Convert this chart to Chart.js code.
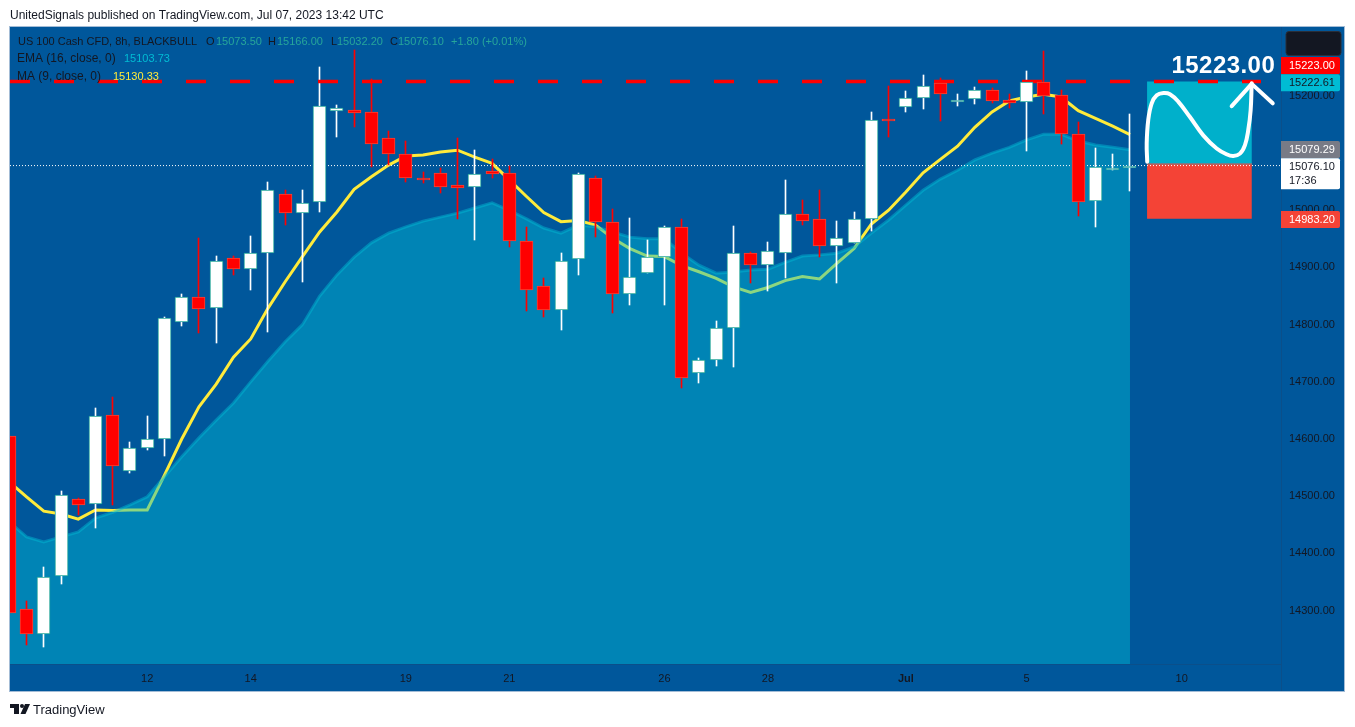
<!DOCTYPE html>
<html><head><meta charset="utf-8">
<style>html,body{margin:0;padding:0;background:#fff;overflow:hidden}canvas{display:block}</style>
<script src="https://cdn.jsdelivr.net/npm/chart.js@4/dist/chart.umd.js"></script>
</head><body><canvas id="c" width="1355" height="727"></canvas>
<script>
// candle values, candle numbers -1..64
const openP =[14604,14300,14258,14358,14493,14484,14640,14542,14582,14598,14802,14846,14827,14914,14896,14924,15026,14993,15012,15171,15174,15169,15125,15096,15054.5,15063,15042,15038,15066,15063,14944,14865,14823,14913,15054,14977,14851,14889,14917,14968,14713,14737,14792,14923,14903,14924,14991,14982,14935,14940,14982,15157,15178,15195,15220,15188,15192,15209,15190,15187,15223,15199,15132,15014,15071,15073.5];
const highP =[14604,14314,14374,14507,14495,14652,14671,14593,14638,14812,14852,14950,14918,14918,14953,15047,15033,15033,15248,15182,15278,15228,15136,15119,15065,15072,15124,15103,15087,15075,14968,14880,14923,15064,15058,15001,14984,14946,14970,14983,14740,14804,14970,14925,14942,15051,15016,15033,14979,14995,15170,15215,15206,15234,15230,15201,15213,15212,15201,15241,15276,15208,15152,15107,15096,15166];
const lowP  =[14293,14238,14235,14345,14465,14443,14483,14539,14578,14568,14796,14783,14766,14884,14859,14786,14972,14873,14995,15126,15144,15074,15077,15048,15046,15028,14983,14946,15055,14934,14822,14812,14789,14885,14952,14819,14832,14889,14832,14688,14696,14726,14724,14871,14857,14880,14972,14917,14871,14940,14962,15126,15170,15175,15154,15180,15184,15185,15176,15102,15167,15114,14988,14969,15068,15032.2];
const closeP=[14293,14258,14356,14501,14483,14638,14550,14582,14598,14809,14846,14825,14910,14896,14923,15033,14993,15011,15181,15176,15168,15113,15097,15054,15053.5,15039,15037,15061,15062,14945,14858,14823,14910,15061,14977,14851,14882,14917,14968,14704,14737,14793,14924,14903,14926,14991,14980,14935,14949,14982,15155,15155,15195,15215,15202,15191,15209,15189,15186,15222,15197,15132,15012,15074,15072,15076.1];
const emaP  =[14453,14427,14418,14427,14435.5,14460,14470,14483,14497,14532,14567,14600,14631,14661,14698,14734,14768,14798,14848,14885,14916,14941,14958,14969,14979,14986,14993,15002,15011,14998,14983,14967,14958,14972,14969,14960,14951,14948,14948,14923,14902,14888,14890,14893.5,14895,14907,14918,14920,14923,14934,14958,14981,15007,15033,15052.5,15068,15086,15098,15108,15121,15131,15131,15119,15112,15108,15103.73];
const maP   =[14523,14497,14472,14467,14458,14474,14473,14474,14474,14535,14598,14654.5,14694,14741,14773,14826.5,14873,14917,14960,14995,15034.5,15056.5,15077,15093,15094.5,15100,15103,15091,15080,15051,15022,14994,14978,14980,14972,14949,14931,14918,14917,14901,14890.5,14879,14864,14854.5,14863,14875,14882,14878,14905,14931,14974,14998,15030,15063.5,15087,15110,15143,15170,15189,15196,15201,15196,15172,15158.6,15145,15130.33];
const candleNo = closeP.map((_, i) => i - 1);

const yTicks = [14300,14400,14500,14600,14700,14800,14900,15000,15200];
const xTickNo = [7,13,22,28,37,43,51,58,67];
const xTickText = ['12','14','19','21','26','28','Jul','5','10'];

const targetPrice = 15223, lastPrice = 15076.10, entryPrice = 15079.29, stopPrice = 14983.20, targetTag = 15222.61;
const zoneFrom = 64.99, zoneTo = 71.07, targetLineTo = 71.6;

// hand-drawn arrow, in candle numbers and prices
const sketchNo    =[65.0,64.97,65.06,65.26,65.55,65.94,66.32,66.8,67.48,68.25,69.03,69.6,69.99,70.38,70.67,70.86,71.0,71.06];
const sketchPrice =[15083,15115,15156,15185,15199,15203,15201,15188,15161,15129,15106,15096,15093,15097,15112,15138,15173,15220];
const headNo    =[69.9,71.06,72.28];
const headPrice =[15180,15219,15185];

const INK='#131722', BG='#00579b', TEAL='#26a69a', CYAN='#00bcd4', YEL='#ffeb3b', TAGRED='#f44336';
const bull = i => closeP[i] >= openP[i];
const pts = (xs, ys) => xs.map((x, i) => ({x, y: ys[i]}));
const flat = (a, b, v) => [{x:a,y:v},{x:b,y:v}];

const decor = {
  id:'decor',
  afterDatasetsUpdate(ch){
    // snap the scale-computed bars to whole pixels so they stay crisp
    ch.getSortedVisibleDatasetMetas().forEach(m=>{
      if(m.type!=='bar') return;
      m.data.forEach(el=>{
        el.x=Math.floor(el.x)+.5;
        const top=Math.round(Math.min(el.y,el.base)), bot=Math.round(Math.max(el.y,el.base));
        el.y=top; el.base=Math.max(bot,top+2);
      });
    });
  },
  beforeDraw(ch){
    const c=ch.ctx; c.save();
    c.fillStyle='#fff'; c.fillRect(0,0,1355,727);
    c.fillStyle=BG; c.fillRect(10,27,1335,665);
    c.strokeStyle='#a3bcd6'; c.lineWidth=1; c.strokeRect(9.5,26.5,1335,665);
    c.strokeStyle='#0b4f8a'; c.beginPath(); c.moveTo(1281.5,27); c.lineTo(1281.5,691); c.stroke();
    c.restore();
  },
  afterDraw(ch){
    const c=ch.ctx, F='"Liberation Sans"'; c.save();
    c.textBaseline='middle'; c.textAlign='left';
    const t=(s,x,y,col,font)=>{c.font=font||('11px '+F); c.fillStyle=col; c.fillText(s,x,y);};
    t('UnitedSignals published on TradingView.com, Jul 07, 2023 13:42 UTC',10,15.5,INK,'12px '+F);
    t('TradingView',33,710,INK,'13px '+F);
    // logo
    c.fillStyle=INK;
    c.fillRect(10,704,9,4); c.fillRect(14,704,5,10);
    c.beginPath(); c.arc(22,706,2,0,7); c.fill();
    c.beginPath(); c.moveTo(25,704); c.lineTo(30,704); c.lineTo(25.5,714); c.lineTo(20.5,714); c.fill();
    // legend
    const y1=41.5,y2=59,y3=76.5;
    t('US 100 Cash CFD, 8h, BLACKBULL',18,y1,INK);
    [['O',206,openP],['H',268,highP],['L',331,lowP],['C',390,closeP]].forEach(([k,x,a])=>{
      t(k,x,y1,INK); t(a[a.length-1].toFixed(2),x+(k==='L'?6:k==='C'?8:k==='H'?9:10),y1,TEAL);
    });
    t('+'+(1.80).toFixed(2)+' (+0.01%)',451,y1,TEAL);
    t('EMA (16, close, 0)',17,y2,INK,'12px '+F); t(emaP[65].toFixed(2),124,y2,CYAN);
    t('MA (9, close, 0)',17,y3,INK,'12px '+F); t(maP[65].toFixed(2),113,y3,YEL);
    c.letterSpacing='0.45px';
    t(targetPrice.toFixed(2),1171.5,66,'#fff','bold 24px '+F);
    c.letterSpacing='0px';
    // axis tags
    c.fillStyle='#131722'; c.strokeStyle='#2a2e39';
    c.beginPath(); c.roundRect(1286,31.5,55,24,3); c.fill(); c.stroke();
    const tag=(v,y0,h,bg,fg)=>{c.fillStyle=bg; c.beginPath(); c.roundRect(1281,y0,59,h,[0,2,2,0]); c.fill(); t(v.toFixed(2),1289,y0+8.7,fg);};
    tag(targetPrice,57,17.3,'#ff0000','#fff');
    tag(targetTag,74.3,17,CYAN,INK);
    tag(entryPrice,141,17.3,'#787b86','#fff');
    tag(lastPrice,158.3,31,'#fff',INK);
    t('17:36',1289,181,INK);
    tag(stopPrice,211,17,TAGRED,'#fff');
    c.restore();
  }
};

new Chart(document.getElementById('c'),{
  type:'bar',
  data:{datasets:[
    {type:'line',label:'Hand arrow',data:pts(sketchNo,sketchPrice),borderColor:'#fff',borderWidth:4,tension:.4,pointRadius:0,borderCapStyle:'round',borderJoinStyle:'round',order:0},
    {type:'line',label:'Arrow head',data:pts(headNo,headPrice),borderColor:'#fff',borderWidth:4,pointRadius:0,borderCapStyle:'round',borderJoinStyle:'round',order:0},
    {label:'Candle bodies',data:candleNo.map((x,i)=>({x,y:[openP[i],closeP[i]]})),
      backgroundColor:candleNo.map((_,i)=>bull(i)?'#ffffff':'#ff0000'),
      borderColor:candleNo.map((_,i)=>bull(i)?TEAL:TAGRED),
      borderWidth:1,borderSkipped:false,grouped:false,barPercentage:1,categoryPercentage:1,maxBarThickness:13,order:1},
    {type:'line',label:'Target',data:flat(-0.96,targetLineTo,targetPrice),borderColor:'#ff0000',borderWidth:3.5,borderDash:[20,24],pointRadius:0,order:2},
    {label:'Candle wicks',data:candleNo.map((x,i)=>({x,y:[lowP[i],highP[i]]})),
      backgroundColor:candleNo.map((_,i)=>bull(i)?'#ffffff':'#ff0000'),
      borderWidth:0,grouped:false,barPercentage:1,categoryPercentage:1,maxBarThickness:1,order:3},
    {type:'line',label:'Last price',data:flat(-0.96,72.76,lastPrice),borderColor:'#ffffff',borderWidth:1,borderDash:[1,2],pointRadius:0,order:4},
    {type:'line',label:'Entry',data:flat(zoneFrom,zoneTo,entryPrice),borderColor:'#787b86',borderWidth:1.5,pointRadius:0,order:4.5},
    {type:'line',label:'Profit zone',data:flat(zoneFrom,zoneTo,targetPrice),borderWidth:0,pointRadius:0,fill:{value:entryPrice},backgroundColor:'#00b0cb',order:5},
    {type:'line',label:'Stop zone',data:flat(zoneFrom,zoneTo,stopPrice),borderWidth:0,pointRadius:0,fill:{value:entryPrice},backgroundColor:TAGRED,order:5},
    {type:'line',label:'EMA',data:pts(candleNo,emaP),borderColor:'rgba(0,188,212,.45)',borderWidth:3,pointRadius:0,fill:'start',backgroundColor:'rgba(0,188,212,.45)',order:6},
    {type:'line',label:'MA',data:pts(candleNo,maP),borderColor:YEL,borderWidth:3,pointRadius:0,order:7}
  ]},
  options:{
    responsive:false,devicePixelRatio:1,animation:false,
    layout:{padding:{left:10,top:27,right:11,bottom:36}},
    plugins:{legend:{display:false},tooltip:{enabled:false},title:{display:false}},
    events:[],
    scales:{
      x:{type:'linear',min:-0.96,max:72.76,offset:false,
        grid:{display:false,drawTicks:false},
        border:{display:true,color:'#0b4f8a',width:1},
        afterBuildTicks:s=>{s.ticks=xTickNo.map(value=>({value}));},
        afterFit:s=>{s.height=27;},
        ticks:{autoSkip:false,maxRotation:0,padding:8,color:INK,
          font:c=>({family:'"Liberation Sans"',size:11,weight:(c.tick&&c.tick.value===51)?'bold':'normal'}),
          callback:v=>xTickText[xTickNo.indexOf(v)]}},
      y:{position:'right',min:14204.7,max:15318.4,
        grid:{display:false,drawTicks:false},
        border:{display:false},
        afterBuildTicks:s=>{s.ticks=yTicks.map(value=>({value}));},
        afterFit:s=>{s.width=63;},
        ticks:{autoSkip:false,padding:8,labelOffset:1,color:INK,font:{family:'"Liberation Sans"',size:11},callback:v=>v.toFixed(2)}}
    }
  },
  plugins:[decor]
});
</script></body></html>
